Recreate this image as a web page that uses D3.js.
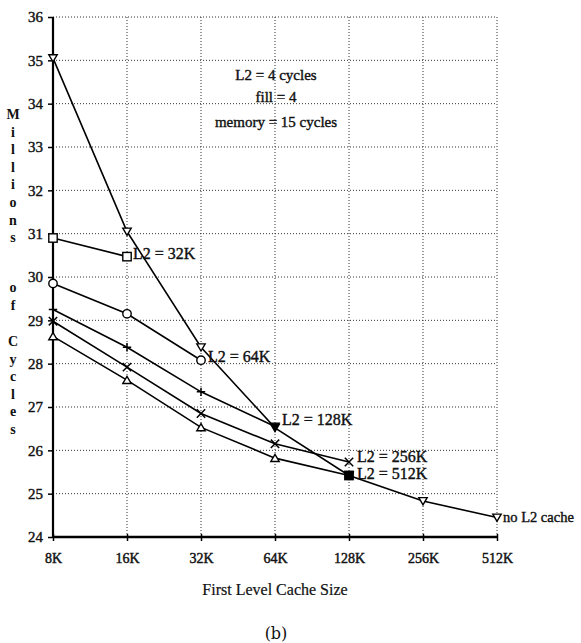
<!DOCTYPE html>
<html>
<head>
<meta charset="utf-8">
<script src="https://cdn.jsdelivr.net/npm/d3@7"></script>
<style>
  html, body { margin: 0; padding: 0; background: #fff; }
  svg { display: block; }
</style>
</head>
<body>
<svg id="chart" width="581" height="643"></svg>
<script>
// ---- data ----
const cacheSizes = ["8K", "16K", "32K", "64K", "128K", "256K", "512K"];
const yTicks = [24, 25, 26, 27, 28, 29, 30, 31, 32, 33, 34, 35, 36];

const noL2 = [35.05, 31.05, 28.38, 26.52, 25.42, 24.83, 24.45];
const l2_32K = [30.9, 30.47];
const l2_64K = [29.85, 29.15, 28.08];
const l2_128K = [29.25, 28.38, 27.35, 26.55];
const l2_256K = [28.98, 27.92, 26.85, 26.15, 25.73];
const l2_512K = [28.63, 27.62, 26.53, 25.82, 25.42];

const seriesNames = ["no L2 cache", "L2 = 32K", "L2 = 64K", "L2 = 128K", "L2 = 256K", "L2 = 512K"];
const seriesValues = [noL2, l2_32K, l2_64K, l2_128K, l2_256K, l2_512K];
const seriesMarkers = ["triDownOpen", "square", "circle", "plus", "cross", "triUp"];
const endMarkers = [null, null, null, "triDownFilled", null, "squareFilled"];
const labelOffsets = [[6, 4], [6, 2], [7, 2], [7, -2], [8, 0], [8, 4]];
const labelSizes = [14.5, 16, 16, 16, 16, 16];

const noteLines = ["L2 = 4 cycles", "fill = 4", "memory = 15 cycles"];
const yTitleWords = ["Millions", "of", "Cycles"];
const xTitle = "First Level Cache Size";
const caption = "(b)";

// ---- drawing ----
const svg = d3.select("#chart");
const serif = "'Liberation Serif', 'Times New Roman', serif";

const x = d3.scalePoint().domain(cacheSizes).range([53, 497]);
const y = d3.scaleLinear().domain([24, 36]).range([537, 17]);

// gridlines
const grid = svg.append("g");
grid.selectAll("line.h").data(yTicks.filter(d => d > 24)).join("line")
  .attr("x1", x.range()[0]).attr("x2", x.range()[1])
  .attr("y1", d => y(d)).attr("y2", d => y(d))
  .attr("stroke", "#333").attr("stroke-width", 1).attr("stroke-dasharray", "1,2");
grid.selectAll("line.v").data(cacheSizes.slice(1)).join("line")
  .attr("x1", d => x(d)).attr("x2", d => x(d))
  .attr("y1", y(36)).attr("y2", y(24))
  .attr("stroke", "#333").attr("stroke-width", 1).attr("stroke-dasharray", "1,2");

// axes
const yAxis = d3.axisLeft(y).tickValues(yTicks).tickSize(5).tickPadding(5).tickFormat(d3.format("d"));
const gy = svg.append("g").attr("transform", `translate(${x.range()[0]},0)`).call(yAxis);
gy.select(".domain").attr("stroke", "#000").attr("stroke-width", 2.2).attr("d", `M0,${y(36)}V${y(24)}`);
gy.selectAll(".tick line").attr("stroke", "#000").attr("stroke-width", 1.5);
gy.selectAll(".tick text").attr("font-family", serif).attr("font-size", 15)
  .attr("fill", "#111").attr("stroke", "#111").attr("stroke-width", 0.4);

const xAxis = d3.axisBottom(x).tickSize(4).tickPadding(12);
const gx = svg.append("g").attr("transform", `translate(0,${y(24)})`).call(xAxis);
gx.select(".domain").attr("stroke", "#000").attr("stroke-width", 2.6).attr("d", `M${x.range()[0]},0H${x.range()[1]}`);
gx.selectAll(".tick line").attr("stroke", "#000").attr("stroke-width", 1.5).attr("y1", -3).attr("y2", 4);
gx.selectAll(".tick text").attr("font-family", serif).attr("font-size", 14)
  .attr("fill", "#111").attr("stroke", "#111").attr("stroke-width", 0.45);

// lines
const line = d3.line().x((d, i) => x(cacheSizes[i])).y(d => y(d));
const gl = svg.append("g");
seriesValues.forEach(vals => {
  gl.append("path").attr("d", line(vals)).attr("fill", "none")
    .attr("stroke", "#000").attr("stroke-width", 1.6);
});

// markers
function drawMarker(g, type, cx, cy) {
  const s = 4.2;
  if (type === "triDownOpen" || type === "triDownFilled") {
    g.append("path").attr("d", `M${cx - s},${cy - s * 0.8}L${cx + s},${cy - s * 0.8}L${cx},${cy + s * 0.9}Z`)
      .attr("fill", type === "triDownFilled" ? "#000" : "#fff").attr("stroke", "#000").attr("stroke-width", 1.4);
  } else if (type === "triUp") {
    g.append("path").attr("d", `M${cx - s},${cy + s * 0.8}L${cx + s},${cy + s * 0.8}L${cx},${cy - s * 0.9}Z`)
      .attr("fill", "#fff").attr("stroke", "#000").attr("stroke-width", 1.4);
  } else if (type === "square" || type === "squareFilled") {
    g.append("rect").attr("x", cx - s).attr("y", cy - s).attr("width", 2 * s).attr("height", 2 * s)
      .attr("fill", type === "squareFilled" ? "#000" : "#fff").attr("stroke", "#000").attr("stroke-width", 1.4);
  } else if (type === "circle") {
    g.append("circle").attr("cx", cx).attr("cy", cy).attr("r", s)
      .attr("fill", "#fff").attr("stroke", "#000").attr("stroke-width", 1.4);
  } else if (type === "plus") {
    g.append("path").attr("d", `M${cx - s},${cy}H${cx + s}M${cx},${cy - s}V${cy + s}`)
      .attr("stroke", "#000").attr("stroke-width", 1.5);
  } else if (type === "cross") {
    g.append("path").attr("d", `M${cx - s},${cy - s}L${cx + s},${cy + s}M${cx - s},${cy + s}L${cx + s},${cy - s}`)
      .attr("stroke", "#000").attr("stroke-width", 1.5);
  }
}
const gm = svg.append("g");
seriesValues.forEach((vals, si) => {
  vals.forEach((v, i) => {
    let type = seriesMarkers[si];
    if (i === vals.length - 1 && endMarkers[si]) type = endMarkers[si];
    drawMarker(gm, type, x(cacheSizes[i]), y(v));
  });
});

// series labels
const gt = svg.append("g").attr("font-family", serif)
  .attr("fill", "#111").attr("stroke", "#111").attr("stroke-width", 0.4);
seriesValues.forEach((vals, si) => {
  const i = vals.length - 1;
  gt.append("text")
    .attr("x", x(cacheSizes[i]) + labelOffsets[si][0])
    .attr("y", y(vals[i]) + labelOffsets[si][1])
    .attr("font-size", labelSizes[si])
    .text(seriesNames[si]);
});

// note
const noteY = [80, 102, 127];
noteLines.forEach((t, i) => {
  svg.append("text").attr("x", 276).attr("y", noteY[i]).attr("text-anchor", "middle")
    .attr("font-family", serif).attr("font-size", 15)
    .attr("fill", "#111").attr("stroke", "#111").attr("stroke-width", 0.4)
    .text(t);
});

// vertical y-axis title, stacked letters
const yTitle = svg.append("text").attr("font-family", serif).attr("font-size", 14).attr("font-weight", "bold")
  .attr("fill", "#111").attr("text-anchor", "middle");
const wordStarts = [119, 292, 346];
yTitleWords.forEach((w, wi) => {
  w.split("").forEach((ch, ci) => {
    yTitle.append("tspan").attr("x", 13).attr("y", wordStarts[wi] + ci * 17.6).text(ch);
  });
});

// x title
svg.append("text").attr("x", 275).attr("y", 595).attr("text-anchor", "middle")
  .attr("font-family", serif).attr("font-size", 16).attr("fill", "#111")
  .attr("stroke", "#111").attr("stroke-width", 0.2).text(xTitle);

// caption
svg.append("text").attr("x", 276).attr("y", 639).attr("text-anchor", "middle")
  .attr("font-family", "'DejaVu Serif', serif").attr("font-size", 16).attr("fill", "#111").text(caption);
</script>
</body>
</html>
